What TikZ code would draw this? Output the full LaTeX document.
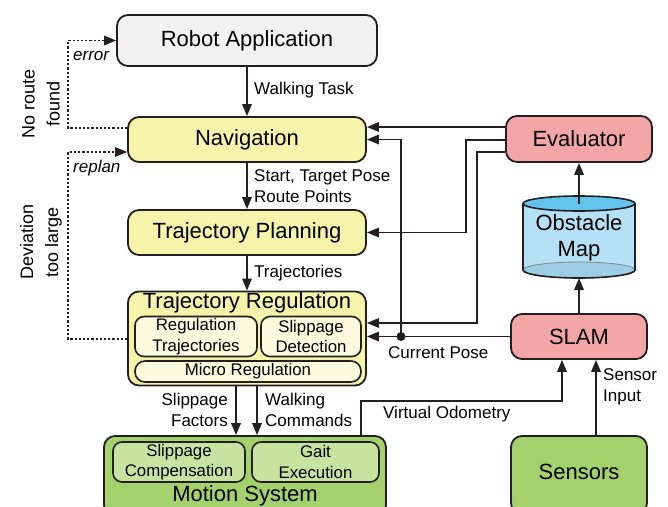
\documentclass[tikz,border=0pt]{standalone}
\usepackage{fontspec}
\setmainfont{Liberation Sans}
\usetikzlibrary{arrows.meta,calc}
\definecolor{lc}{HTML}{231F20}
\definecolor{cgray}{HTML}{F1F2F1}
\definecolor{cyel}{HTML}{F6F4AA}
\definecolor{cyell}{HTML}{FBFADC}
\definecolor{cred}{HTML}{F4A5A6}
\definecolor{cgreen}{HTML}{A3D16B}
\definecolor{cgreenl}{HTML}{C8E3A0}
\definecolor{cbody}{HTML}{B5E1F6}
\definecolor{ctop}{HTML}{62C3EC}
\definecolor{cbot}{HTML}{9CCFE6}
\begin{document}
\begin{tikzpicture}[x=1pt,y=-1pt,
 box/.style={draw=lc,line width=1.8pt,rounded corners=11pt,inner sep=0pt,align=center},
 ibox/.style={draw=lc,line width=1.6pt,rounded corners=9pt,inner sep=0pt,align=center},
 big/.style={font=\fontsize{22}{26}\selectfont},
 sm/.style={font=\fontsize{16.8}{20.5}\selectfont},
 lbl/.style={font=\fontsize{17}{21}\selectfont,inner sep=0pt},
 arr/.style={draw=lc,line width=1.6pt,-{Triangle[length=12pt,width=9.5pt]}},
 ln/.style={draw=lc,line width=1.6pt},
 dsh/.style={draw=lc,line width=1.3pt,dash pattern=on 2.2pt off 2pt}]

\useasboundingbox (0,0) rectangle (668,506);
\clip (0,0) rectangle (668,506);

% helper coordinates
\coordinate (y127) at (0,127);
\coordinate (y140) at (0,140);
\coordinate (y152) at (0,152);
\coordinate (y323) at (0,323);
\coordinate (y128) at (0,128);
\coordinate (y339) at (0,339);
\coordinate (lx) at (68,0);
\coordinate (x466) at (466,0);
\coordinate (x477) at (477,0);
\coordinate (x401) at (401,0);
\coordinate (vx) at (361,0);
\coordinate (sx) at (596,0);
\coordinate (vo) at (562,401);

% left column
\node[box,big,fill=cgray,minimum width=260pt,minimum height=51pt] (robot) at (247,40.5) {Robot Application};
\node[box,big,fill=cyel,minimum width=238pt,minimum height=45pt] (nav) at (247,139.5) {Navigation};
\node[box,big,fill=cyel,minimum width=238pt,minimum height=45pt] (plan) at (247,232.5) {Trajectory Planning};
\node[box,fill=cyel,minimum width=238pt,minimum height=94pt] (reg) at (247,338.5) {};
\node[big,inner sep=0pt] (regt) at (247,303) {Trajectory Regulation};
\node[ibox,sm,fill=cyell,minimum width=122pt,minimum height=40pt] (rt) at (196,336.5) {Regulation\\Trajectories};
\node[ibox,sm,fill=cyell,minimum width=100pt,minimum height=40pt] (sd) at (311,336.5) {Slippage\\Detection};
\node[ibox,sm,fill=cyell,rounded corners=10pt,minimum width=226pt,minimum height=21pt] (micro) at (248,371.5) {Micro Regulation};

\node[box,fill=cgreen,minimum width=282pt,minimum height=80pt] (motion) at (245,476) {};
\node[ibox,sm,fill=cgreenl,minimum width=132pt,minimum height=40pt] (sc) at (179,462) {Slippage\\Compensation};
\node[ibox,sm,fill=cgreenl,minimum width=127pt,minimum height=40pt] (ge) at (315.5,462) {Gait\\Execution};
\node[big,inner sep=0pt] (mt) at (245,496) {Motion System};

% right column
\node[box,big,fill=cred,minimum width=146pt,minimum height=46pt] (eval) at (579,139) {Evaluator};
\node[box,big,fill=cred,minimum width=136pt,minimum height=45pt] (slam) at (579,336.5) {SLAM};
\node[box,fill=cgreen,minimum width=136pt,minimum height=78pt] (sensors) at (579,475) {};
\node[big,inner sep=0pt] (sent) at (579,472) {Sensors};

% cylinder
\fill[cbody] (523,203.5) rectangle (635,270);
\fill[cbot] (579,270) ellipse (56 and 8);
\draw[lc!55,line width=0.8pt] (579,270) ellipse (56 and 8);
\draw[ln] (523,203.5) -- (523,270) (635,203.5) -- (635,270);
\begin{scope}
\clip (518,270) rectangle (640,284);
\draw[ln] (579,270) ellipse (56 and 8);
\end{scope}
\filldraw[fill=ctop,draw=lc,line width=1.6pt] (579,203.5) ellipse (56 and 7.5);
\coordinate (maptop) at (579,203.5);
\coordinate (mapbot) at (579,278);
\node[big,align=center,inner sep=0pt] (map) at (579,238) {Obstacle\\Map};

% main vertical flow
\draw[arr] (robot.south) -- (nav.north);
\draw[arr] (nav.south) -- (plan.north);
\draw[arr] (plan.south) -- (reg.north);
\coordinate (a1) at ($(reg.south)+(-11,0)$);
\coordinate (a2) at ($(reg.south)+(10,0)$);
\draw[arr] (a1) -- (a1 |- motion.north);
\draw[arr] (a2) -- (a2 |- motion.north);

% evaluator feedback
\draw[arr] (eval.west |- y127) -- (nav.east |- y127);
\draw[arr] (eval.west |- y140) -| (x466 |- plan.east) -- (plan.east);
\draw[arr] (eval.west |- y152) -| (x477 |- y323) -- (reg.east |- y323);

% SLAM current pose
\draw[arr] (slam.west) -- (reg.east |- slam.west);
\coordinate (cp) at (slam.west -| x401);
\draw[arr] (cp) |- (nav.east);
\fill[lc] (cp) circle (4.5);

% SLAM / map / evaluator
\draw[arr] (slam.north) -- (mapbot);
\draw[arr] (maptop) -- (eval.south);

% sensors and odometry
\draw[arr] (sensors.north -| sx) -- (slam.south -| sx);
\draw[arr] (motion.north -| vx) |- (vo) -- (vo |- slam.south);

% dashed feedback
\draw[dsh,-{Triangle[length=12pt,width=9.5pt]}] (nav.west |- y128) -- (lx |- y128) -- (lx |- robot.west) -- (robot.west);
\draw[dsh,-{Triangle[length=12pt,width=9.5pt]}] (reg.west |- y339) -- (lx |- y339) -- (lx |- y152) -- (nav.west |- y152);

% labels
\node[lbl,anchor=west] (lwt) at (254,90) {Walking Task};
\node[lbl,anchor=west,align=left] (lst) at (254,186.5) {Start, Target Pose\\Route Points};
\node[lbl,anchor=west] (ltr) at (254,273) {Trajectories};
\node[lbl,anchor=east,align=right] (lsf) at (228,410) {Slippage\\Factors};
\node[lbl,anchor=west,align=left] (lwc) at (265,410) {Walking\\Commands};
\node[lbl,anchor=west] (lcp) at (388,353) {Current Pose};
\node[lbl,anchor=west] (lvo) at (383,414) {Virtual Odometry};
\node[lbl,anchor=west,align=left] (lsi) at (603,387) {Sensor\\Input};
\node[lbl,anchor=west,font=\fontsize{17}{20}\itshape] (lerr) at (73,56) {error};
\node[lbl,anchor=west,font=\fontsize{17}{20}\itshape] (lrp) at (73,168) {replan};
\node[lbl,align=center,rotate=90,font=\fontsize{18}{25}\selectfont] (lnr) at (41,104) {No route\\found};
\node[lbl,align=center,rotate=90,font=\fontsize{18}{25}\selectfont] (ldv) at (41,242) {Deviation\\too large};
\end{tikzpicture}
\end{document}
